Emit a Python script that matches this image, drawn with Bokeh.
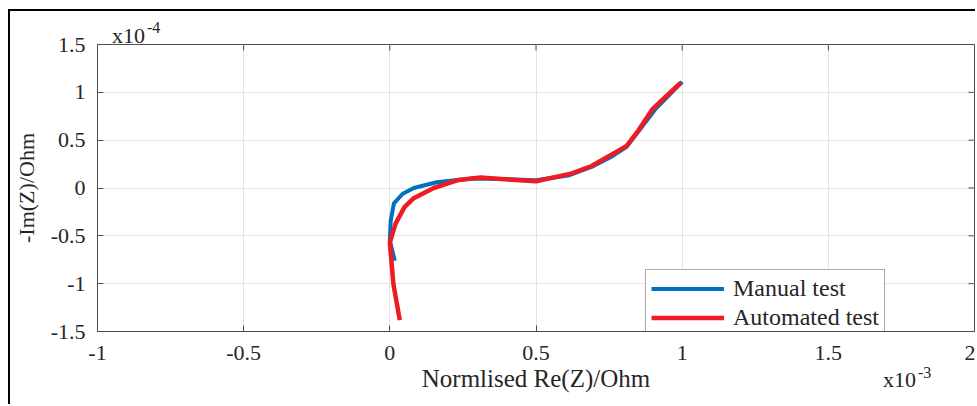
import math
from bokeh.plotting import figure
from bokeh.layouts import column
from bokeh.models import (FixedTicker, Range1d, Legend, LegendItem, Div)
from bokeh.embed import file_html
from bokeh.resources import INLINE

# Data (Re in units of 1e-3 Ohm, -Im in units of 1e-4 Ohm)
manual_re = [0.017, 0.0, 0.003, 0.014, 0.044, 0.082, 0.16, 0.28, 0.38, 0.5, 0.61, 0.69, 0.76, 0.81, 0.86, 0.91, 1.0]
manual_im = [-0.76, -0.55, -0.34, -0.16, -0.06, 0.0, 0.06, 0.10, 0.095, 0.08, 0.13, 0.22, 0.33, 0.43, 0.63, 0.83, 1.11]
auto_re = [0.034, 0.012, 0.0, 0.02, 0.05, 0.08, 0.15, 0.23, 0.31, 0.38, 0.5, 0.62, 0.69, 0.77, 0.81, 0.85, 0.9, 0.995]
auto_im = [-1.38, -1.0, -0.57, -0.37, -0.2, -0.11, 0.0, 0.08, 0.11, 0.095, 0.07, 0.15, 0.23, 0.37, 0.44, 0.6, 0.83, 1.1]

x_ticks = [-1, -0.5, 0, 0.5, 1, 1.5, 2]
x_tick_labels = ["-1", "-0.5", "0", "0.5", "1", "1.5", "2"]
y_ticks = [-1.5, -1, -0.5, 0, 0.5, 1, 1.5]
y_tick_labels = ["-1.5", "-1", "-0.5", "0", "0.5", "1", "1.5"]
x_exponent = "-3"
y_exponent = "-4"

FONT = "Liberation Serif"
AXC = "#4d4d4d"
TXT = "#262626"

x_min, x_max = x_ticks[0], x_ticks[-1]
y_min, y_max = y_ticks[0], y_ticks[-1]

p = figure(width=967, height=395, output_backend="svg", toolbar_location=None,
           x_range=Range1d(x_min, x_max), y_range=Range1d(y_min, y_max),
           min_border_left=87, min_border_right=3, min_border_top=33, min_border_bottom=75)
p.styles = {"margin-left": "8px", "margin-top": "9px",
            "border-left": "2px solid black", "border-top": "2px solid black"}
p.background_fill_color = "white"
p.border_fill_color = "white"
p.outline_line_color = AXC
p.outline_line_width = 1

for ax in [p.xaxis[0], p.yaxis[0]]:
    ax.axis_line_color = AXC
    ax.major_tick_line_color = AXC
    ax.major_tick_in = 6
    ax.major_tick_out = 0
    ax.minor_tick_line_color = None
    ax.major_label_text_font = FONT
    ax.major_label_text_font_size = "22px"
    ax.major_label_text_color = TXT
    ax.axis_label_text_font = FONT
    ax.axis_label_text_font_style = "normal"
    ax.axis_label_text_color = TXT

p.xaxis[0].axis_label_text_font_size = "25px"
p.yaxis[0].axis_label_text_font_size = "22px"
p.xaxis[0].ticker = FixedTicker(ticks=x_ticks)
p.yaxis[0].ticker = FixedTicker(ticks=y_ticks)
p.xaxis[0].major_label_overrides = {t: s for t, s in zip(x_ticks, x_tick_labels)}
p.yaxis[0].major_label_overrides = {t: s for t, s in zip(y_ticks, y_tick_labels)}
p.xaxis[0].axis_label = "Normlised Re(Z)/Ohm"
p.yaxis[0].axis_label = "-Im(Z)/Ohm"
p.xaxis[0].major_label_standoff = 14
p.xaxis[0].axis_label_standoff = 2
p.yaxis[0].major_label_standoff = 12
p.yaxis[0].axis_label_standoff = 9

p.xgrid.ticker = FixedTicker(ticks=x_ticks)
p.ygrid.ticker = FixedTicker(ticks=y_ticks)
p.xgrid.grid_line_color = "#e3e3e3"
p.ygrid.grid_line_color = "#e3e3e3"

# inward box ticks on the top and right edges
p.ray(x=x_ticks, y=[y_max] * len(x_ticks), length=6, length_units="screen",
      angle=-math.pi / 2, line_color=AXC, line_width=1)
p.ray(x=[x_max] * len(y_ticks), y=y_ticks, length=6, length_units="screen",
      angle=math.pi, line_color=AXC, line_width=1)

r1 = p.line(manual_re, manual_im, line_color="#0072BD", line_width=4, line_join="round")
r2 = p.line(auto_re, auto_im, line_color="#ED1C24", line_width=4.5, line_join="round")

legend = Legend(items=[LegendItem(label="Manual test", renderers=[r1]),
                       LegendItem(label="Automated test", renderers=[r2])],
                location=(548, -6), label_text_font=FONT, label_text_font_size="24px",
                label_text_color=TXT, border_line_color="#555555", border_line_width=1,
                glyph_width=73, glyph_height=25, label_height=25, label_standoff=9,
                padding=5, spacing=2, margin=0, background_fill_alpha=1)
p.add_layout(legend, "center")


def exp_div(text, left, top, size):
    html = (f'<span style="font-family:\'{FONT}\';font-size:{size}px;'
            f'line-height:{size}px;color:{TXT}">{text}</span>')
    return Div(text=html, styles={"position": "absolute", "left": f"{left}px", "top": f"{top}px",
                                  "font-family": FONT, "font-size": f"{size}px",
                                  "line-height": f"{size}px", "color": TXT,
                                  "white-space": "nowrap", "z-index": "10",
                                  "margin": "0", "padding": "0"})


# scale multipliers of the axes (MATLAB-style "x10^n")
labels = [exp_div("x10", 112, 25, 22), exp_div(y_exponent, 147, 20, 16),
          exp_div("x10", 883, 369, 22), exp_div(x_exponent, 918, 365, 16)]

layout = column(p, *labels)
open("out.html", "w").write(file_html(layout, INLINE))
